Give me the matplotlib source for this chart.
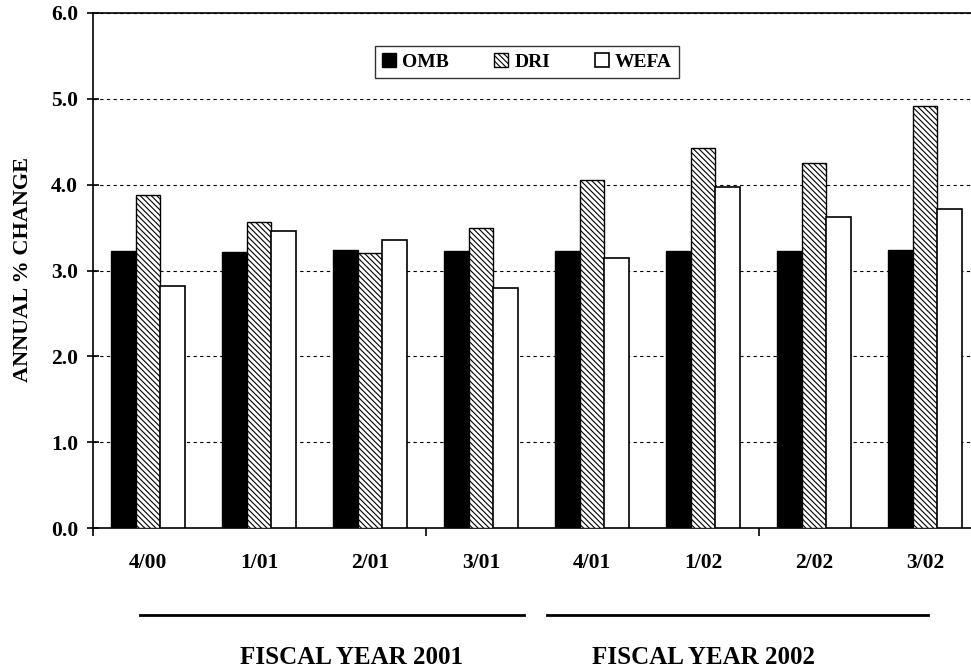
import numpy as np
import matplotlib
matplotlib.use('Agg')
import matplotlib.pyplot as plt
from matplotlib.lines import Line2D

quarters = ['4/00', '1/01', '2/01', '3/01', '4/01', '1/02', '2/02', '3/02']
omb = [3.23, 3.22, 3.24, 3.23, 3.23, 3.23, 3.23, 3.24]
dri = [3.88, 3.57, 3.20, 3.50, 4.06, 4.43, 4.25, 4.92]
wefa = [2.82, 3.46, 3.35, 2.80, 3.15, 3.97, 3.62, 3.72]
fiscal_years = ['FISCAL YEAR 2001', 'FISCAL YEAR 2002']

plt.rcParams['font.family'] = ['Liberation Serif', 'DejaVu Serif']
plt.rcParams['font.weight'] = 'bold'
plt.rcParams['hatch.linewidth'] = 0.8

fig = plt.figure(figsize=(9.71, 6.70), dpi=100)
ax = fig.add_axes([92.5 / 971, 142 / 670, 888 / 971, 515 / 670])

x = np.arange(len(quarters)) + 0.5
w = 0.225
ax.bar(x - w, omb, w, color='black', edgecolor='black', linewidth=1.0, label='OMB', zorder=3)
ax.bar(x, dri, w, color='white', edgecolor='black', hatch='\\\\\\\\\\\\', linewidth=1.0, label='DRI', zorder=3)
ax.bar(x + w, wefa, w, color='white', edgecolor='black', linewidth=1.2, label='WEFA', zorder=3)

ax.set_xlim(0, len(quarters))
ax.set_ylim(0, 6)
yt = np.arange(0, 6.1, 1.0)
ax.set_yticks(yt)
ax.set_yticklabels(['%.1f' % v for v in yt], fontsize=15.5, fontweight='bold')
ax.yaxis.grid(True, color='black', linestyle=(0, (3, 3)), linewidth=0.8)
ax.set_axisbelow(True)

# ticks every 3 quarters, labels centred on the groups
ax.set_xticks([0, 3, 6])
ax.set_xticklabels([])
ax.set_xticks(x, minor=True)
ax.set_xticklabels(quarters, minor=True, fontsize=15.5, fontweight='bold')
ax.tick_params(axis='x', which='major', direction='out', length=6, width=1.2)
ax.tick_params(axis='x', which='minor', length=0, pad=18)
ax.tick_params(axis='y', direction='inout', length=9, width=1.2, pad=6)

for s in ['left', 'bottom', 'top', 'right']:
    ax.spines[s].set_linewidth(1.2)

ax.set_ylabel('ANNUAL % CHANGE', fontsize=16, fontweight='bold')
ax.yaxis.set_label_coords(-59.5 / 888, (528 - 270) / 515)

leg = ax.legend(loc='center', bbox_to_anchor=(527 / 971, 1 - 62 / 670), bbox_transform=fig.transFigure,
                ncol=3, fontsize=14, frameon=True, fancybox=False, edgecolor='black',
                handlelength=0.75, handleheight=0.75, handletextpad=0.3, columnspacing=2.3,
                borderpad=0.35, borderaxespad=0)
leg.get_frame().set_linewidth(1.0)

# fiscal year brackets below the axis
for (x0, x1), xt, txt in zip([(140, 524), (547, 928)], [351, 704], fiscal_years):
    fig.add_artist(Line2D([x0 / 971, x1 / 971], [1 - 615 / 670] * 2, color='black', linewidth=2.0))
    fig.text(xt / 971, 1 - 657 / 670, txt, ha='center', va='center', fontsize=18, fontweight='bold')

fig.savefig('out.png', dpi=100)
